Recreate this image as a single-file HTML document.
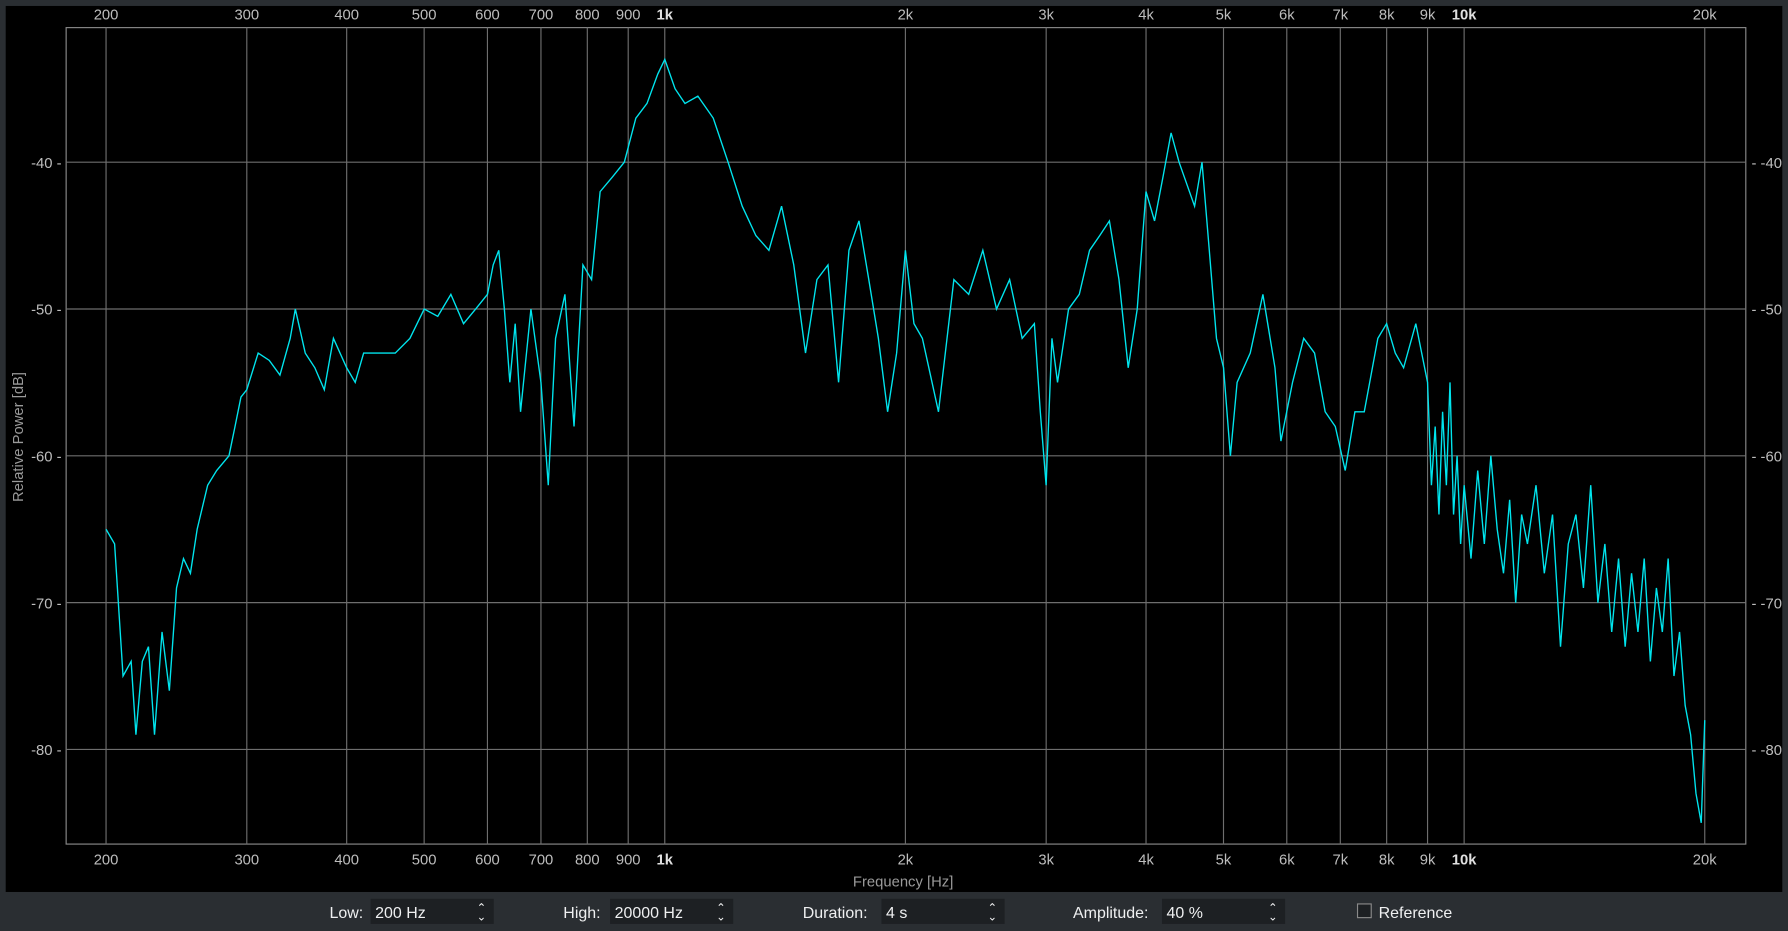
<!DOCTYPE html>
<html><head><meta charset="utf-8"><style>
html,body{margin:0;padding:0;background:#2a2e32;width:1788px;height:931px;overflow:hidden}
svg{display:block;font-family:"Liberation Sans",sans-serif}
</style></head><body>
<svg id="chart" width="1788" height="931" viewBox="0 0 1568 816">
<rect x="0" y="0" width="1568" height="816" fill="#2a2e32"/>
<rect x="5" y="5" width="1558" height="777" fill="#000"/>
<rect x="58" y="24" width="1473" height="716" fill="#000" stroke="#8a8a8a" stroke-width="1"/>
<g id="grid"></g>
<g id="labels" font-size="13" fill="#bdbdbd"></g>
<text x="20" y="383" transform="rotate(-90 20 383)" text-anchor="middle" font-size="13" fill="#9a9a9a">Relative Power [dB]</text>
<text x="792" y="777" text-anchor="middle" font-size="13" fill="#9a9a9a">Frequency [Hz]</text>
<polyline id="series" fill="none" stroke="#00e5ee" stroke-width="1.2"/>
<g font-size="14" fill="#eff0f1">
  <text x="289" y="805">Low:</text>
  <rect x="325" y="788" width="108" height="22" fill="#1d2023"/>
  <text x="329" y="805">200 Hz</text>
  <text x="418" y="799" font-size="10">⌃</text>
  <text x="418" y="807" font-size="10">⌄</text>
  <text x="494" y="805">High:</text>
  <rect x="535" y="788" width="108" height="22" fill="#1d2023"/>
  <text x="539" y="805">20000 Hz</text>
  <text x="628" y="799" font-size="10">⌃</text>
  <text x="628" y="807" font-size="10">⌄</text>
  <text x="704" y="805">Duration:</text>
  <rect x="773" y="788" width="108" height="22" fill="#1d2023"/>
  <text x="777" y="805">4 s</text>
  <text x="866" y="799" font-size="10">⌃</text>
  <text x="866" y="807" font-size="10">⌄</text>
  <text x="941" y="805">Amplitude:</text>
  <rect x="1019" y="788" width="108" height="22" fill="#1d2023"/>
  <text x="1023" y="805">40 %</text>
  <text x="1112" y="799" font-size="10">⌃</text>
  <text x="1112" y="807" font-size="10">⌄</text>
  <rect x="1190.5" y="792.5" width="12" height="12" fill="#1d2023" stroke="#8a8a8a"/>
  <text x="1209" y="805">Reference</text>
</g>
</svg>
<script>
const xTicks=[200,300,400,500,600,700,800,900,1000,2000,3000,4000,5000,6000,7000,8000,9000,10000,20000];
const xTickLabels=["200","300","400","500","600","700","800","900","1k","2k","3k","4k","5k","6k","7k","8k","9k","10k","20k"];
const yTicks=[-40,-50,-60,-70,-80];
const freqs=[200,205,210,215,218,222,226,230,235,240,245,250,255,260,268,275,285,290,295,300,310,320,330,340,345,355,365,375,385,400,410,420,440,460,480,500,520,540,560,580,600,610,620,630,640,650,660,680,700,715,730,750,770,790,810,830,860,890,920,950,980,1000,1030,1060,1100,1150,1200,1250,1300,1350,1400,1450,1500,1550,1600,1650,1700,1750,1800,1850,1900,1950,2000,2050,2100,2200,2300,2400,2500,2600,2700,2800,2900,2950,3000,3050,3100,3200,3300,3400,3500,3600,3700,3800,3900,4000,4100,4200,4300,4400,4600,4700,4800,4900,5000,5100,5200,5400,5600,5800,5900,6100,6300,6500,6700,6900,7100,7300,7500,7800,8000,8200,8400,8700,9000,9100,9200,9300,9400,9500,9600,9700,9800,9900,10000,10200,10400,10600,10800,11000,11200,11400,11600,11800,12000,12300,12600,12900,13200,13500,13800,14100,14400,14700,15000,15300,15600,15900,16200,16500,16800,17100,17400,17700,18000,18300,18600,18900,19200,19500,19800,20000];
const powerDb=[-65,-66,-75,-74,-79,-74,-73,-79,-72,-76,-69,-67,-68,-65,-62,-61,-60,-58,-56,-55.5,-53,-53.5,-54.5,-52,-50,-53,-54,-55.5,-52,-54,-55,-53,-53,-53,-52,-50,-50.5,-49,-51,-50,-49,-47,-46,-50,-55,-51,-57,-50,-55,-62,-52,-49,-58,-47,-48,-42,-41,-40,-37,-36,-34,-33,-35,-36,-35.5,-37,-40,-43,-45,-46,-43,-47,-53,-48,-47,-55,-46,-44,-48,-52,-57,-53,-46,-51,-52,-57,-48,-49,-46,-50,-48,-52,-51,-57,-62,-52,-55,-50,-49,-46,-45,-44,-48,-54,-50,-42,-44,-41,-38,-40,-43,-40,-46,-52,-54,-60,-55,-53,-49,-54,-59,-55,-52,-53,-57,-58,-61,-57,-57,-52,-51,-53,-54,-51,-55,-62,-58,-64,-57,-62,-55,-64,-60,-66,-62,-67,-61,-66,-60,-65,-68,-63,-70,-64,-66,-62,-68,-64,-73,-66,-64,-69,-62,-70,-66,-72,-67,-73,-68,-72,-67,-74,-69,-72,-67,-75,-72,-77,-79,-83,-85,-78];
const xS=f=>93+701*Math.log10(f/200);
const yS=d=>142-(d+40)*12.875;
const NS="http://www.w3.org/2000/svg";
const grid=document.getElementById('grid'),labels=document.getElementById('labels');
xTicks.forEach((t,i)=>{
  const l=document.createElementNS(NS,'line');
  l.setAttribute('x1',xS(t));l.setAttribute('x2',xS(t));l.setAttribute('y1',24);l.setAttribute('y2',740);
  l.setAttribute('stroke','#6e6e6e');l.setAttribute('stroke-width','1');
  
  
  grid.appendChild(l);
  [17,758].forEach(y=>{
    const tx=document.createElementNS(NS,'text');
    tx.setAttribute('x',xS(t));tx.setAttribute('y',y);tx.setAttribute('text-anchor','middle');
    if(t===1000||t===10000){tx.setAttribute('font-weight','bold');tx.setAttribute('fill','#e0e0e0');}
    tx.textContent=xTickLabels[i];
    
    
    labels.appendChild(tx);
  });
});
yTicks.forEach(t=>{
  const l=document.createElementNS(NS,'line');
  l.setAttribute('x1',58);l.setAttribute('x2',1531);l.setAttribute('y1',yS(t));l.setAttribute('y2',yS(t));
  l.setAttribute('stroke','#6e6e6e');l.setAttribute('stroke-width','1');
  
  
  grid.appendChild(l);
  [[54,'end'],[1536,'start']].forEach(([x,a])=>{
    const tx=document.createElementNS(NS,'text');
    tx.setAttribute('x',x);tx.setAttribute('y',yS(t)+5);tx.setAttribute('text-anchor',a);
    tx.textContent=(a==='start'?'- ':'')+t+(a==='end'?' -':'');
    
    
    labels.appendChild(tx);
  });
});
document.getElementById('series').setAttribute('points',freqs.map((f,i)=>xS(f).toFixed(1)+','+yS(powerDb[i]).toFixed(1)).join(' '));
</script>
</body></html>
